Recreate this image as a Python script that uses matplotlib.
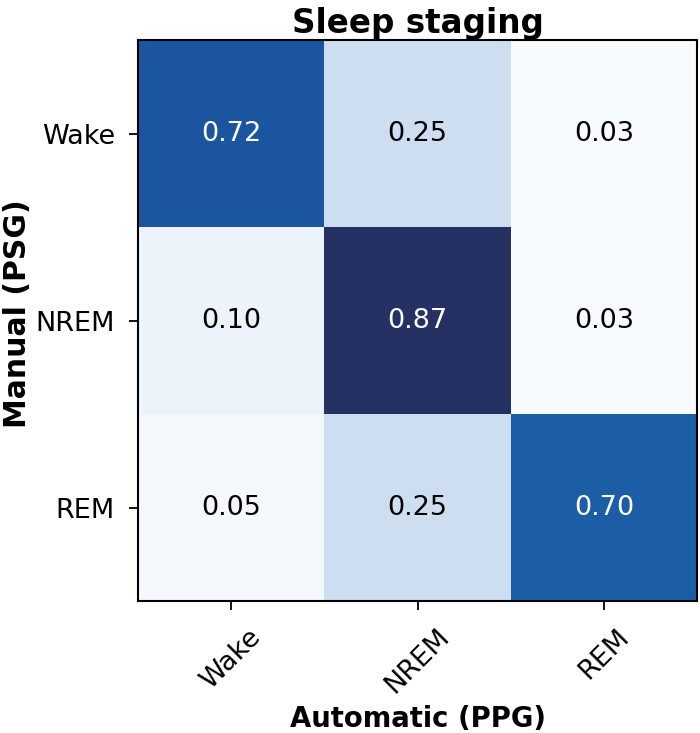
import numpy as np
import matplotlib
matplotlib.use("Agg")
import matplotlib.pyplot as plt
from matplotlib.colors import LinearSegmentedColormap

# Data
classes = ["Wake", "NREM", "REM"]
matrix = np.array([
    [0.72, 0.25, 0.03],
    [0.10, 0.87, 0.03],
    [0.05, 0.25, 0.70],
])
title = "Sleep staging"
xlabel = "Automatic (PPG)"
ylabel = "Manual (PSG)"

vmin, vmax = matrix.min(), matrix.max()
anchors = [(0.03, "#f8fbfe"), (0.10, "#edf3fb"), (0.25, "#cddff0"),
           (0.70, "#1b60a7"), (0.72, "#1c56a0"), (0.87, "#253063")]
cmap = LinearSegmentedColormap.from_list(
    "blues_custom", [((v - vmin) / (vmax - vmin), c) for v, c in anchors])

fig = plt.figure(figsize=(7.0, 7.33), dpi=100)
ax = fig.add_axes([0.197, 0.18, 0.799, 0.765])
ax.imshow(matrix, cmap=cmap, vmin=vmin, vmax=vmax, aspect="auto",
          interpolation="nearest")

thresh = vmax / 2.0
for i in range(matrix.shape[0]):
    for j in range(matrix.shape[1]):
        v = matrix[i, j]
        ax.text(j, i, f"{v:.2f}", ha="center", va="center", fontsize=19.5,
                color="white" if v > thresh else "black")

ax.set_xticks(range(len(classes)))
ax.set_yticks(range(len(classes)))
ax.set_xticklabels(classes, rotation=45, ha="center", fontsize=19.5)
ax.set_yticklabels(classes, fontsize=19.5)
ax.tick_params(length=6.5, width=1.3, pad=10)
for s in ax.spines.values():
    s.set_linewidth(1.5)
ax.set_title(title, fontsize=23.5, fontweight="bold", pad=3.6)
ax.set_xlabel(xlabel, fontsize=19.8, fontweight="bold")
ax.set_ylabel(ylabel, fontsize=21.5, fontweight="bold")
ax.xaxis.set_label_coords(0.5, -0.185)
ax.yaxis.set_label_coords(-0.19, 0.512)

fig.savefig("out.png", dpi=100)
